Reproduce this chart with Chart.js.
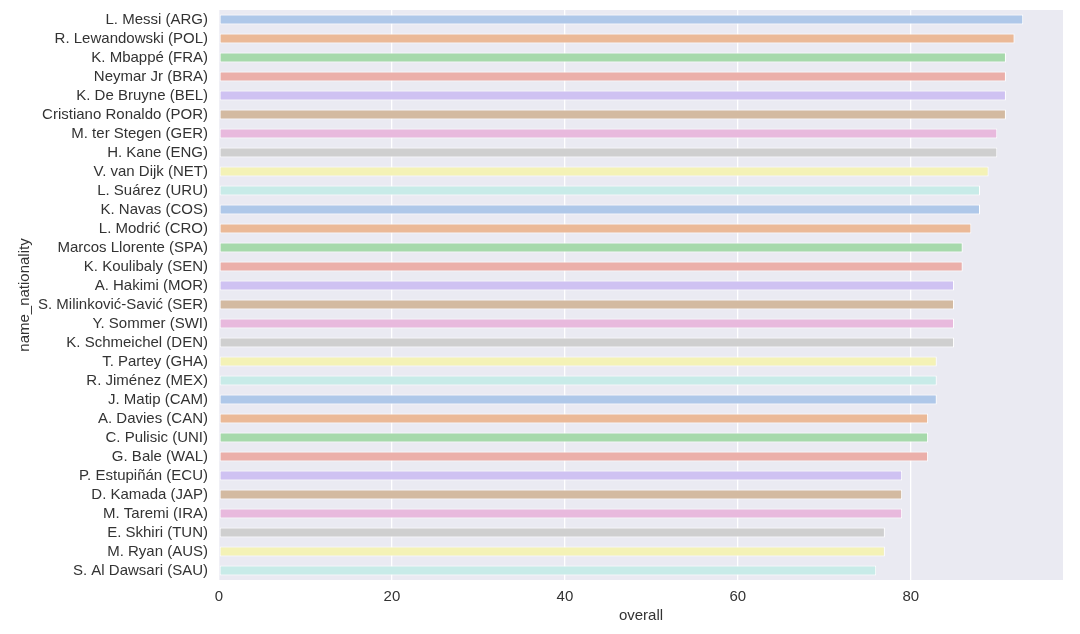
<!DOCTYPE html>
<html>
<head>
<meta charset="utf-8">
<script src="https://cdn.jsdelivr.net/npm/chart.js@4"></script>
<style>
  html, body { margin: 0; padding: 0; background: #fff; }
  canvas { display: block; }
</style>
</head>
<body>
<canvas id="chart" width="1080" height="634"></canvas>
<script>
  // Players (name + nationality) and their overall rating
  const players = [
    'L. Messi (ARG)', 'R. Lewandowski (POL)', 'K. Mbappé (FRA)', 'Neymar Jr (BRA)',
    'K. De Bruyne (BEL)', 'Cristiano Ronaldo (POR)', 'M. ter Stegen (GER)', 'H. Kane (ENG)',
    'V. van Dijk (NET)', 'L. Suárez (URU)', 'K. Navas (COS)', 'L. Modrić (CRO)',
    'Marcos Llorente (SPA)', 'K. Koulibaly (SEN)', 'A. Hakimi (MOR)', 'S. Milinković-Savić (SER)',
    'Y. Sommer (SWI)', 'K. Schmeichel (DEN)', 'T. Partey (GHA)', 'R. Jiménez (MEX)',
    'J. Matip (CAM)', 'A. Davies (CAN)', 'C. Pulisic (UNI)', 'G. Bale (WAL)',
    'P. Estupiñán (ECU)', 'D. Kamada (JAP)', 'M. Taremi (IRA)', 'E. Skhiri (TUN)',
    'M. Ryan (AUS)', 'S. Al Dawsari (SAU)'
  ];
  const overall = [
    93, 92, 91, 91, 91, 91, 90, 90, 89, 88, 88, 87, 86, 86, 85,
    85, 85, 85, 83, 83, 83, 82, 82, 82, 79, 79, 79, 77, 77, 76
  ];

  // seaborn "pastel" look
  const palette = [
    '#afc8e9', '#ebb997', '#a6d9ab', '#ebafaa', '#cfc2f2',
    '#d3baa1', '#e8b9dd', '#cfcfcf', '#f4f2b6', '#c8ebe8'
  ];
  const barColors = players.map((p, i) => palette[i % palette.length]);

  // grey plot background
  const plotBg = {
    id: 'plotBg',
    beforeDraw(chart) {
      const a = chart.chartArea;
      const ctx = chart.ctx;
      ctx.save();
      ctx.fillStyle = '#eaeaf2';
      ctx.fillRect(a.left, a.top, a.right - a.left, a.bottom - a.top);
      ctx.restore();
    }
  };

  Chart.defaults.font.family = '"Liberation Sans", Arial, sans-serif';
  Chart.defaults.color = '#333333';

  new Chart(document.getElementById('chart'), {
    type: 'bar',
    data: {
      labels: players,
      datasets: [{
        label: 'overall',
        data: overall,
        backgroundColor: barColors,
        borderColor: '#ffffff',
        borderWidth: 1,
        borderSkipped: false,
        categoryPercentage: 1,
        barPercentage: 0.52
      }]
    },
    options: {
      indexAxis: 'y',
      responsive: false,
      animation: false,
      layout: { padding: { top: 10, right: 17, bottom: 0, left: 0 } },
      plugins: {
        legend: { display: false },
        tooltip: { enabled: false }
      },
      scales: {
        x: {
          min: 0,
          max: 97.6,
          ticks: { stepSize: 20, padding: 8, font: { size: 15 } },
          afterBuildTicks(scale) {
            scale.ticks = scale.ticks.filter(t => t.value % 20 === 0);
          },
          grid: { color: '#ffffff', lineWidth: 1.3, drawTicks: false },
          border: { display: false },
          title: { display: true, text: 'overall', font: { size: 15 }, padding: { top: 4, bottom: 9 } },
          afterFit(scale) { scale.height = 54; }
        },
        y: {
          ticks: { padding: 11, font: { size: 15 }, autoSkip: false },
          grid: { display: false, drawTicks: false },
          border: { display: false },
          title: { display: true, text: 'name_nationality', font: { size: 15 }, padding: { top: 16, bottom: 4 } },
          afterFit(scale) {
            scale.width = 219;
            scale.paddingTop = 0;
            scale.paddingBottom = 0;
          }
        }
      }
    },
    plugins: [plotBg]
  });
</script>
</body>
</html>
